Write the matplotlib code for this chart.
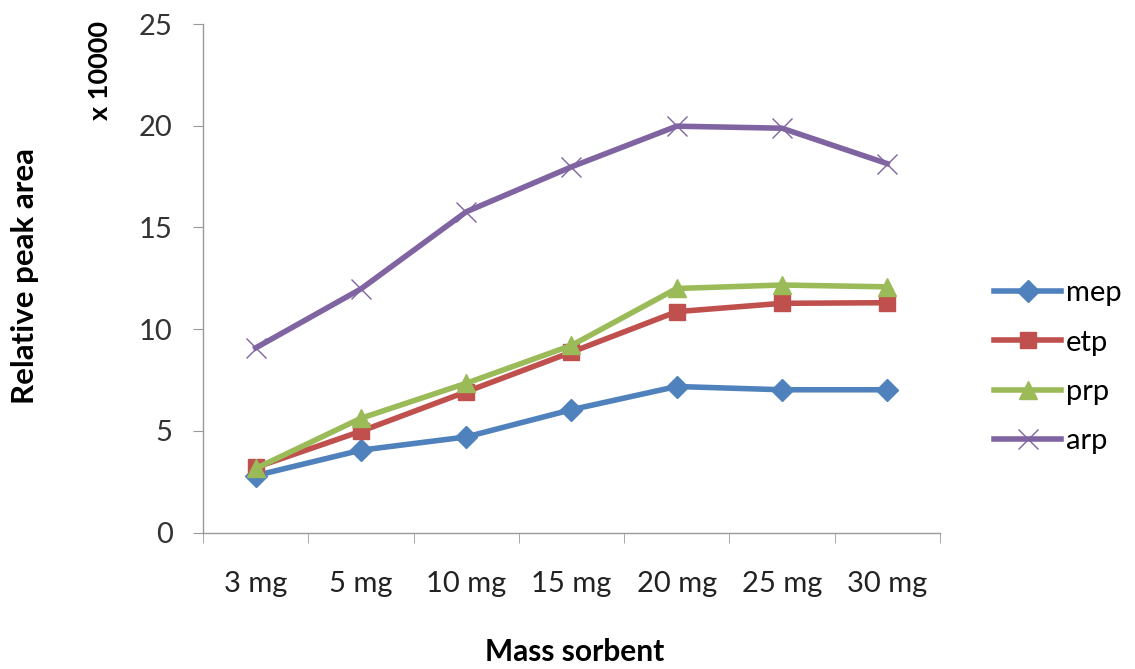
import matplotlib
matplotlib.use("Agg")
import matplotlib.pyplot as plt
import numpy as np

# === DATA ===
categories = ['3 mg', '5 mg', '10 mg', '15 mg', '20 mg', '25 mg', '30 mg']
mep = [2.8, 4.05, 4.7, 6.04, 7.18, 7.02, 7.02]
etp = [3.2, 4.98, 6.92, 8.87, 10.86, 11.27, 11.3]
prp = [3.15, 5.62, 7.34, 9.2, 12.0, 12.17, 12.08]
arp = [9.08, 11.98, 15.77, 17.98, 19.98, 19.88, 18.14]

labels = ['mep', 'etp', 'prp', 'arp']
colors = ['#4F81BD', '#C0504D', '#9BBB59', '#8064A2']
markers = ['D', 's', '^', 'x']
msizes = [11, 12, 13, 15]

plt.rcParams['font.family'] = ['Lato', 'DejaVu Sans']

fig = plt.figure(figsize=(11.35, 6.69), dpi=100)
ax = fig.add_axes([0.179, 0.204, 0.649, 0.76])

x = np.arange(len(categories))
for series, lab, col, mk, ms in zip([mep, etp, prp, arp], labels, colors, markers, msizes):
    if mk == 'x':
        ax.plot(x, series, color=col, lw=4, marker=mk, markersize=ms,
                markeredgewidth=1.0, label=lab, solid_joinstyle='round')
    else:
        ax.plot(x, series, color=col, lw=4, marker=mk, markersize=ms,
                markeredgecolor=col, label=lab, solid_joinstyle='round')

# === FORMATTING ===
ax.set_xlim(-0.5, len(categories) - 0.5)
ax.set_ylim(0, 25)
ax.set_yticks([0, 5, 10, 15, 20, 25])
ax.set_xticks(x)
ax.set_xticklabels(categories, fontsize=21, color='#222222')
ax.set_xticks(np.arange(-0.5, len(categories)), minor=True)
ax.tick_params(axis='x', which='major', length=0, pad=28)
ax.tick_params(axis='x', which='minor', length=7, color='#999999', direction='out')
ax.tick_params(axis='y', length=7, color='#999999', labelsize=21, pad=15, labelcolor='#333333')

for side in ['top', 'right']:
    ax.spines[side].set_visible(False)
for side in ['left', 'bottom']:
    ax.spines[side].set_color('#999999')
    ax.spines[side].set_linewidth(1.0)

fig.text(0.506, 0.026, 'Mass sorbent', fontsize=21.5, fontweight='bold', ha='center', va='center')
fig.text(0.022, 0.587, 'Relative peak area', fontsize=22.5, fontweight='bold',
         rotation=90, ha='center', va='center')
fig.text(0.088, 0.895, 'x 10000', fontsize=19.5, fontweight='bold',
         rotation=90, ha='center', va='center')

leg = ax.legend(loc='center left', bbox_to_anchor=(1.058, 0.325), frameon=False,
                fontsize=21, handlelength=2.3, labelspacing=0.8, handletextpad=0.15,
                borderaxespad=0)

fig.savefig('out.png', dpi=100)
